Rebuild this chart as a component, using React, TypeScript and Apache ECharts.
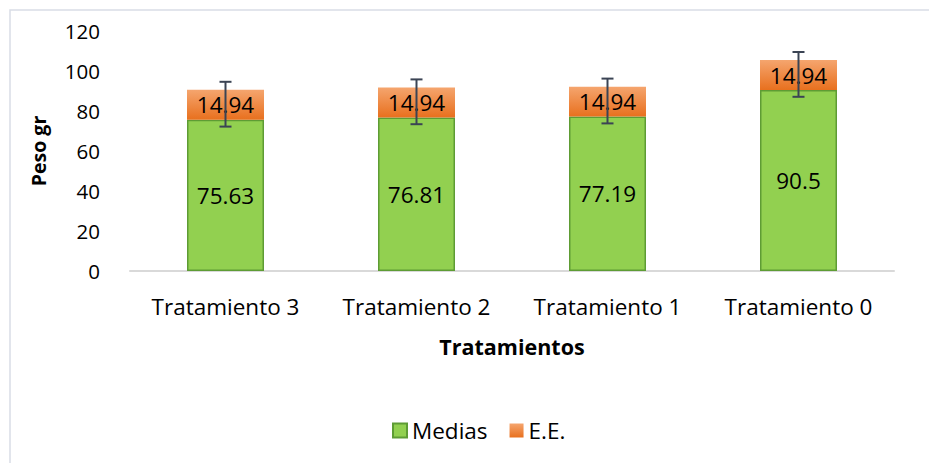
import React, { useEffect, useRef } from "react";
import * as echarts from "echarts";

const categories = ["Tratamiento 3", "Tratamiento 2", "Tratamiento 1", "Tratamiento 0"];
const medias = [75.63, 76.81, 77.19, 90.5];
const ee = [14.94, 14.94, 14.94, 14.94];
const errLow = [72.2, 73.4, 73.8, 87.1];
const errHigh = [94.6, 95.8, 96.2, 109.5];
const yTicks = { min: 0, max: 120, interval: 20 };

const FONT = "Open Sans";

export default function App() {
  const ref = useRef<HTMLDivElement>(null);
  useEffect(() => {
    document.body.style.margin = "0";
    const chart = echarts.init(ref.current!, null, { renderer: "svg" });
    const errData = categories.map((_, i) => [i, errLow[i], errHigh[i]]);
    chart.setOption({
      animation: false,
      backgroundColor: "#fff",
      textStyle: { fontFamily: FONT },
      graphic: [
        {
          type: "rect",
          shape: { x: 10, y: 10, width: 930, height: 470 },
          style: { fill: "none", stroke: "#D9DDE6", lineWidth: 1.5 },
          silent: true,
        },
      ],
      grid: { left: 130, right: 35, top: 31, height: 240 },
      legend: {
        top: 414,
        left: 387,
        itemWidth: 14,
        itemHeight: 14,
        itemGap: 22,
        icon: "rect",
        textStyle: { fontFamily: FONT, fontSize: 22.5, color: "#000" },
        data: ["Medias", "E.E."],
      },
      xAxis: {
        type: "category",
        data: categories,
        name: "Tratamientos",
        nameLocation: "middle",
        nameGap: 64,
        nameTextStyle: { fontFamily: FONT, fontSize: 21.5, fontWeight: "bold", color: "#000" },
        axisLine: { lineStyle: { color: "#D9D9D9", width: 2 } },
        axisTick: { show: false },
        axisLabel: { fontFamily: FONT, fontSize: 22.5, color: "#000", margin: 24, interval: 0 },
      },
      yAxis: {
        type: "value",
        min: yTicks.min,
        max: yTicks.max,
        interval: yTicks.interval,
        name: "Peso gr",
        nameLocation: "middle",
        nameGap: 82,
        nameTextStyle: { fontFamily: FONT, fontSize: 19.5, fontWeight: "bold", color: "#000" },
        splitLine: { show: false },
        axisLine: { show: false },
        axisTick: { show: false },
        axisLabel: { fontFamily: FONT, fontSize: 20.5, color: "#000", margin: 30 },
      },
      series: [
        {
          name: "Medias",
          type: "bar",
          stack: "total",
          barWidth: 77,
          data: medias,
          itemStyle: { color: "#92D050", borderColor: "#5E9C34", borderWidth: 1.5 },
          label: {
            show: true,
            position: "inside",
            fontFamily: FONT,
            fontSize: 22.5,
            color: "#000",
          },
        },
        {
          name: "E.E.",
          type: "bar",
          stack: "total",
          barWidth: 77,
          data: ee,
          itemStyle: {
            color: new echarts.graphic.LinearGradient(0, 0, 0, 1, [
              { offset: 0, color: "#F5A56E" },
              { offset: 1, color: "#E8701E" },
            ]),
          },
          label: {
            show: true,
            position: "inside",
            fontFamily: FONT,
            fontSize: 22.5,
            color: "#000",
          },
        },
        {
          name: "err",
          type: "custom",
          data: errData,
          z: 10,
          renderItem: (params: any, api: any) => {
            const x = api.value(0);
            const lo = api.coord([x, api.value(1)]);
            const hi = api.coord([x, api.value(2)]);
            const cx = lo[0];
            const half = 6;
            const style = { stroke: "#3B4454", lineWidth: 2 };
            return {
              type: "group",
              children: [
                { type: "line", shape: { x1: cx, y1: hi[1], x2: cx, y2: lo[1] }, style },
                { type: "line", shape: { x1: cx - half, y1: hi[1], x2: cx + half, y2: hi[1] }, style },
                { type: "line", shape: { x1: cx - half, y1: lo[1], x2: cx + half, y2: lo[1] }, style },
              ],
            };
          },
        },
      ],
    });
    return () => chart.dispose();
  }, []);
  return <div ref={ref} style={{ width: 929, height: 463 }} />;
}
